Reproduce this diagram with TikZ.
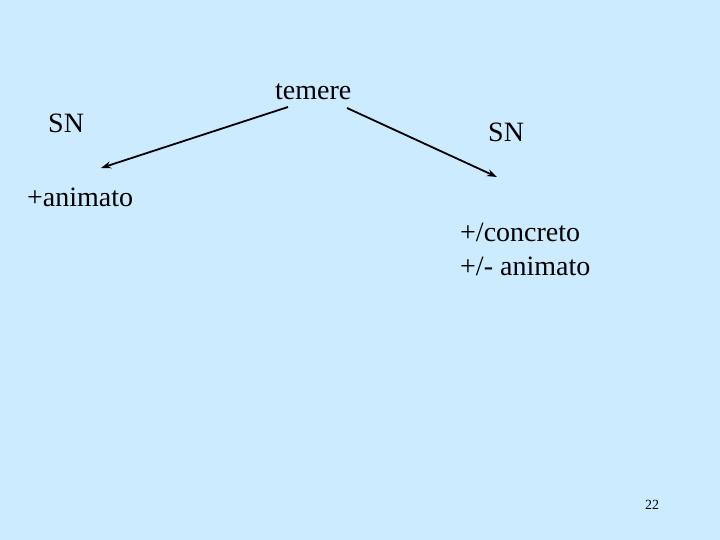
\documentclass[tikz,border=0pt]{standalone}
\usepackage{fontspec}
\setmainfont{Liberation Serif}
\usepackage{tikz}
\usetikzlibrary{arrows.meta}
\definecolor{slidebg}{HTML}{CCEBFF}
\tikzset{
  word/.style={inner sep=0pt, anchor=base west, font=\fontsize{28}{33}\selectfont},
  link/.style={line width=1.8pt, -{Stealth[length=10pt,width=7pt]}}
}

\begin{document}
\begin{tikzpicture}[x=1pt, y=-1pt]
\fill[slidebg] (0,0) rectangle (720,540);
\useasboundingbox (0,0) rectangle (720,540);
\node[word] (temere) at (275,100) {temere};
\node[word] (snleft) at (48,133) {SN};
\node[word] (snright) at (488,142) {SN};
\node[word] (animL) at (27,207) {+animato};
\node[word] (concR) at (460,241) {+/concreto};
\node[word] (animR) at (460,275) {+/- animato};
\node[inner sep=0pt, anchor=base, font=\fontsize{14}{16}\selectfont] (page) at (652,509) {22};
\coordinate (startL) at (288,107);
\coordinate (endL) at (101,168);
\coordinate (startR) at (347,108);
\coordinate (endR) at (497,177);
\draw[link] (startL) -- (endL);
\draw[link] (startR) -- (endR);
\end{tikzpicture}
\end{document}
